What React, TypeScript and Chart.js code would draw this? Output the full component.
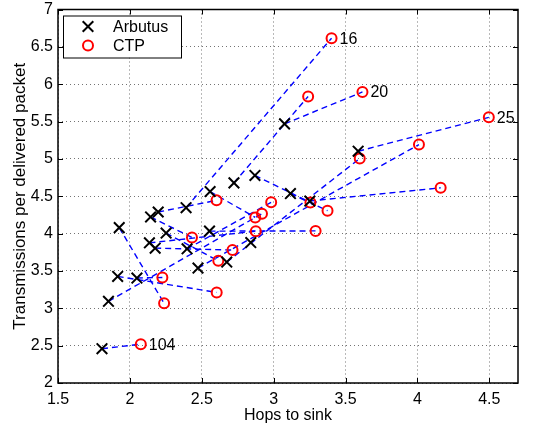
import React, { useEffect, useRef } from 'react';
import { Chart, registerables } from 'chart.js';

Chart.register(...registerables);

// Arbutus points (hops, transmissions)
const arbutusHops = [1.806, 1.851, 1.915, 2.049, 1.926, 2.144, 2.197, 2.252, 2.136, 2.176, 2.391, 2.398, 2.474, 2.558, 2.554, 2.724, 2.87, 2.674, 2.841, 3.117, 3.076, 3.588, 3.252];
const arbutusTx = [2.459, 3.093, 3.427, 3.405, 4.08, 4.223, 4.289, 4.007, 3.876, 3.805, 4.347, 3.796, 3.539, 4.563, 4.033, 4.679, 4.779, 3.619, 3.88, 4.536, 5.469, 5.103, 4.436];

// CTP points
const ctpHops = [2.076, 2.238, 2.226, 2.604, 2.603, 2.432, 2.615, 2.714, 2.876, 2.872, 2.919, 2.983, 3.403, 3.24, 3.618, 4.497, 4.011, 3.599, 4.162, 3.256, 3.375, 3.292];
const ctpTx = [2.52, 3.067, 3.413, 3.213, 4.445, 3.948, 3.636, 3.779, 4.032, 4.216, 4.267, 4.419, 6.616, 5.836, 5.896, 5.556, 5.192, 5.005, 4.613, 4.416, 4.307, 4.036];

// Node pairs: Arbutus index <-> CTP index
const pairArbutus = [0, 1, 2, 3, 4, 5, 6, 7, 8, 9, 10, 11, 12, 13, 14, 15, 16, 17, 19, 20, 21, 22];
const pairCtp = [0, 10, 3, 2, 1, 5, 4, 6, 8, 7, 12, 11, 16, 9, 21, 13, 19, 17, 20, 14, 15, 18];

// Node id labels attached to CTP points
const labelCtpIndex = [0, 12, 14, 15];
const labelText = ['104', '16', '20', '25'];

const xTicks = [1.5, 2, 2.5, 3, 3.5, 4, 4.5];
const yTicks = [2, 2.5, 3, 3.5, 4, 4.5, 5, 5.5, 6, 6.5, 7];

const FONT = 'Liberation Sans, Arial, Helvetica, sans-serif';

export default function App() {
  const ref = useRef<HTMLCanvasElement>(null);

  useEffect(() => {
    document.body.style.margin = '0';
    const canvas = ref.current;
    if (!canvas) return;

    const arbutusData = arbutusHops.map((x, i) => ({ x, y: arbutusTx[i] }));
    const ctpData = ctpHops.map((x, i) => ({ x, y: ctpTx[i] }));
    const lineSets = pairArbutus.map((a, k) => ({
      label: 'pair' + k,
      data: [arbutusData[a], ctpData[pairCtp[k]]],
      showLine: true,
      borderColor: '#0000ff',
      borderWidth: 1.4,
      borderDash: [6, 4],
      pointRadius: 0,
      fill: false,
    }));

    const framePlugin = {
      id: 'frame',
      afterDatasetsDraw(chart: any) {
        const { ctx, chartArea: ca, scales } = chart;
        const xs = scales.x;
        const ys = scales.y;
        ctx.save();
        ctx.strokeStyle = '#000';
        ctx.lineWidth = 1;
        ctx.beginPath();
        const tl = 5;
        xTicks.forEach((v) => {
          const px = Math.round(xs.getPixelForValue(v)) + 0.5;
          ctx.moveTo(px, ca.bottom);
          ctx.lineTo(px, ca.bottom - tl);
          ctx.moveTo(px, ca.top);
          ctx.lineTo(px, ca.top + tl);
        });
        yTicks.forEach((v) => {
          const py = Math.round(ys.getPixelForValue(v)) + 0.5;
          ctx.moveTo(ca.left, py);
          ctx.lineTo(ca.left + tl, py);
          ctx.moveTo(ca.right, py);
          ctx.lineTo(ca.right - tl, py);
        });
        ctx.stroke();
        ctx.lineWidth = 1.5;
        ctx.strokeRect(ca.left, ca.top, ca.right - ca.left, ca.bottom - ca.top);

        // node labels
        ctx.fillStyle = '#000';
        ctx.font = '16px ' + FONT;
        ctx.textAlign = 'left';
        ctx.textBaseline = 'middle';
        labelCtpIndex.forEach((ci, k) => {
          const px = xs.getPixelForValue(ctpHops[ci]);
          const py = ys.getPixelForValue(ctpTx[ci]);
          ctx.fillText(labelText[k], px + 8, py + 1);
        });

        // legend
        const lx = ca.left + 5;
        const ly = ca.top + 6;
        const lw = 118;
        const lh = 42;
        ctx.fillStyle = '#fff';
        ctx.fillRect(lx, ly, lw, lh);
        ctx.lineWidth = 1;
        ctx.strokeStyle = '#000';
        ctx.strokeRect(lx + 0.5, ly + 0.5, lw, lh);
        const mx = lx + 25;
        const r1 = ly + 11;
        const r2 = ly + 30;
        ctx.lineWidth = 2;
        ctx.strokeStyle = '#000';
        const h = 5.3;
        ctx.beginPath();
        ctx.moveTo(mx - h, r1 - h);
        ctx.lineTo(mx + h, r1 + h);
        ctx.moveTo(mx + h, r1 - h);
        ctx.lineTo(mx - h, r1 + h);
        ctx.stroke();
        ctx.strokeStyle = '#ff0000';
        ctx.beginPath();
        ctx.arc(mx, r2, 5, 0, Math.PI * 2);
        ctx.stroke();
        ctx.fillStyle = '#000';
        ctx.font = '16px ' + FONT;
        ctx.fillText('Arbutus', lx + 50, r1 + 1);
        ctx.fillText('CTP', lx + 50, r2 + 1);
        ctx.restore();
      },
    };

    const tickFont = { family: FONT, size: 16 };

    const chart = new Chart(canvas, {
      type: 'scatter',
      data: {
        datasets: [
          {
            label: 'Arbutus',
            data: arbutusData,
            pointStyle: 'crossRot',
            pointRadius: 7.5,
            borderColor: '#000',
            backgroundColor: '#000',
            borderWidth: 2,
          },
          {
            label: 'CTP',
            data: ctpData,
            pointStyle: 'circle',
            pointRadius: 5,
            borderColor: '#ff0000',
            backgroundColor: 'rgba(0,0,0,0)',
            borderWidth: 2,
          },
          ...lineSets,
        ] as any,
      },
      options: {
        animation: false,
        responsive: false,
        events: [],
        layout: { padding: { left: 0, right: 22, top: 8, bottom: 0 } },
        plugins: { legend: { display: false }, tooltip: { enabled: false } },
        scales: {
          x: {
            type: 'linear',
            min: 1.5,
            max: 4.7,
            afterBuildTicks: (s: any) => {
              s.ticks = xTicks.map((v) => ({ value: v }));
            },
            afterFit: (s: any) => {
              s.height = 46;
              s.paddingLeft = 0;
              s.paddingRight = 0;
            },
            ticks: {
              font: tickFont,
              color: '#000',
              padding: 7,
              maxRotation: 0,
              autoSkip: false,
              callback: (v: any) => String(v),
            },
            grid: { color: 'rgba(0,0,0,0.55)', drawTicks: false, lineWidth: 1 },
            border: { display: false, dash: [1, 3] },
            title: { display: true, text: 'Hops to sink', font: tickFont, color: '#000', padding: { top: 0, bottom: 4 } },
          },
          y: {
            type: 'linear',
            min: 2,
            max: 7,
            afterBuildTicks: (s: any) => {
              s.ticks = yTicks.map((v) => ({ value: v }));
            },
            afterFit: (s: any) => {
              s.width = 58;
              s.paddingTop = 0;
              s.paddingBottom = 0;
            },
            ticks: {
              font: tickFont,
              color: '#000',
              padding: 5,
              autoSkip: false,
              callback: (v: any) => String(v),
            },
            grid: { color: 'rgba(0,0,0,0.55)', drawTicks: false, lineWidth: 1 },
            border: { display: false, dash: [1, 3] },
            title: { display: true, text: 'Transmissions per delivered packet', font: { family: FONT, size: 17 }, color: '#000', padding: { top: 10, bottom: 0 } },
          },
        },
      },
      plugins: [framePlugin],
    });

    return () => chart.destroy();
  }, []);

  return <canvas ref={ref} width={540} height={429} style={{ display: 'block' }} />;
}
